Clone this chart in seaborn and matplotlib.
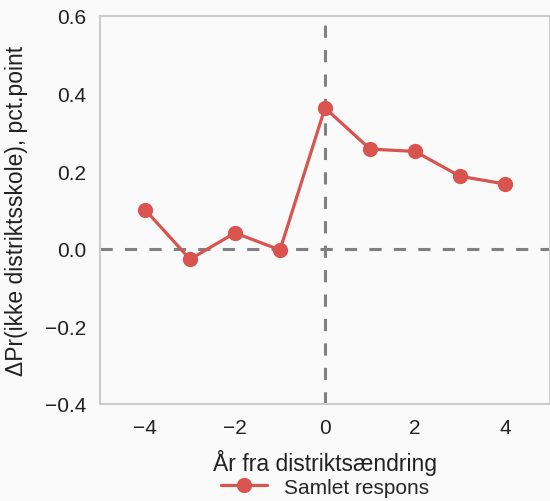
import pandas as pd
import matplotlib
matplotlib.use("Agg")
import matplotlib.pyplot as plt
import seaborn as sns

years = [-4, -3, -2, -1, 0, 1, 2, 3, 4]
effect = [0.101, -0.027, 0.041, -0.003, 0.363, 0.257, 0.251, 0.187, 0.167]
series_name = "Samlet respons"

df = pd.DataFrame({"year": years, "effect": effect, "serie": series_name})

sns.set_style("white")
plt.rcParams["font.family"] = ["Liberation Sans", "DejaVu Sans"]

fig = plt.figure(figsize=(5.5, 5.02), dpi=100, facecolor="#fafafa")
ax = fig.add_axes([100 / 550, 1 - 405 / 502, 1 - 100 / 550, (405 - 17) / 502])
ax.set_facecolor("#fafafa")

ax.axhline(0, color="#808080", lw=2.2, ls=(0, (4, 4)), zorder=1)
ax.axvline(0, color="#808080", lw=2.2, ls=(0, (4, 4)), zorder=1)

sns.lineplot(data=df, x="year", y="effect", hue="serie", palette=["#d9534f"],
             marker="o", markersize=11, markeredgewidth=0, lw=2.3, ax=ax, zorder=3)

ax.set_xlim(-5, 5)
ax.set_ylim(-0.4, 0.6)
ax.set_xticks([-4, -2, 0, 2, 4])
ax.set_yticks([-0.4, -0.2, 0.0, 0.2, 0.4, 0.6])
ax.set_yticklabels(["\u22120.4", "\u22120.2", "0.0", "0.2", "0.4", "0.6"])
ax.tick_params(labelsize=15, colors="#222222", length=0, pad=10)
for sp in ax.spines.values():
    sp.set_color("#cccccc")
    sp.set_linewidth(1.5)

ax.set_xlabel("År fra distriktsændring", fontsize=16.5, color="#222222", labelpad=9)
ax.set_ylabel("ΔPr(ikke distriktsskole), pct.point", fontsize=16.5, color="#222222", labelpad=12)

ax.legend(loc="center", bbox_to_anchor=(0.5, -0.214), frameon=False,
          fontsize=15, handlelength=2.2, handletextpad=0.8)

fig.savefig("out.png", dpi=100, facecolor="#fafafa")
